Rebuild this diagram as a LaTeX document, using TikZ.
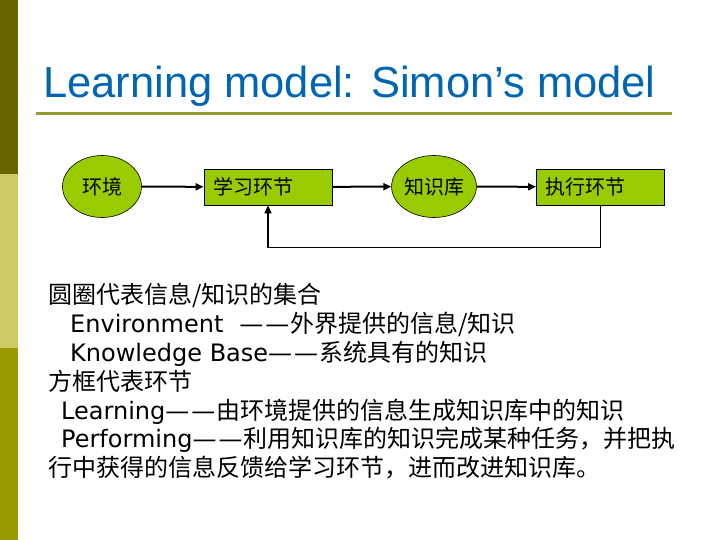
\documentclass[tikz,border=0pt]{standalone}
\usepackage{fontspec}
\setmainfont{DejaVu Sans}
\newfontfamily\cjk{Noto Sans CJK SC}
\newfontfamily\titlefont{Liberation Sans}
\usetikzlibrary{arrows.meta,shapes.geometric}
\definecolor{slidedark}{HTML}{666600}
\definecolor{slidelight}{HTML}{CCCC66}
\definecolor{slideolive}{HTML}{999900}
\definecolor{slideline}{HTML}{999933}
\definecolor{slideblue}{HTML}{0066B3}
\definecolor{stagefill}{HTML}{99CC00}
\newcommand\cndash{—\kern2pt—\kern1pt}
\tikzset{
  titletext/.style={font=\titlefont\fontsize{43.5}{52}\selectfont, text=slideblue, inner sep=0pt},
  bodytext/.style={font=\fontsize{24}{28.8}\selectfont, text=black, inner sep=0pt},
  infocircle/.style={ellipse, draw=black, fill=stagefill, line width=.6pt,
    minimum width=79pt, minimum height=62pt, inner sep=0pt,
    font=\cjk\fontsize{20}{24}\selectfont},
  stagebox/.style={draw=black, fill=stagefill, line width=.8pt,
    minimum height=36pt, text width=110pt, inner xsep=9pt, align=left,
    font=\cjk\fontsize{20}{24}\selectfont},
  flow/.style={-{Triangle[length=8pt,width=7pt]}, line width=2pt},
  feedback/.style={-{Triangle[length=8pt,width=7pt]}, line width=1.5pt}
}
\begin{document}
\begin{tikzpicture}[x=1pt,y=-1pt]
  \useasboundingbox (0,0) rectangle (720,540);
  \fill[white] (0,0) rectangle (720,540);
  % side bar
  \fill[slidedark] (0,0) rectangle (18,174);
  \fill[slidelight] (0,174) rectangle (18,348);
  \fill[slideolive] (0,348) rectangle (18,540);

  \node[titletext, anchor=base west] (title) at (43,98) {Learning model: Simon’s model};
  \draw[slideline, line width=3pt] (36,114) -- (672,114);

  % Simon's model
  \node[infocircle] (env) at (102,186.5) {环境};
  \node[stagebox] (learn) at (268,187) {学习环节};
  \node[infocircle] (know) at (434,186.5) {知识库};
  \node[stagebox] (perf) at (600.5,187) {执行环节};
  \draw[flow] (env) -- (learn);
  \draw[flow] (learn) -- (know);
  \draw[flow] (know) -- (perf);
  \draw[feedback] (perf.south) -- ++(0,42) -| (learn.south);

  \foreach \n/\x/\y/\txt in {
      1/48/303/{{\cjk 圆圈代表信息/知识的集合}},
      2/70/332/{Environment\hspace{16pt}\cndash{\cjk 外界提供的信息/知识}},
      3/70/361/{Knowledge Base\cndash{\cjk 系统具有的知识}},
      4/48/390/{{\cjk 方框代表环节}},
      5/61/419/{Learning\cndash{\cjk 由环境提供的信息生成知识库中的知识}},
      6/61/447/{Performing\cndash{\cjk 利用知识库的知识完成某种任务，并把执}},
      7/48/476/{{\cjk 行中获得的信息反馈给学习环节，进而改进知识库。}}} {
    \node[bodytext, anchor=base west] (note\n) at (\x,\y) {\txt};
  }
\end{tikzpicture}
\end{document}
